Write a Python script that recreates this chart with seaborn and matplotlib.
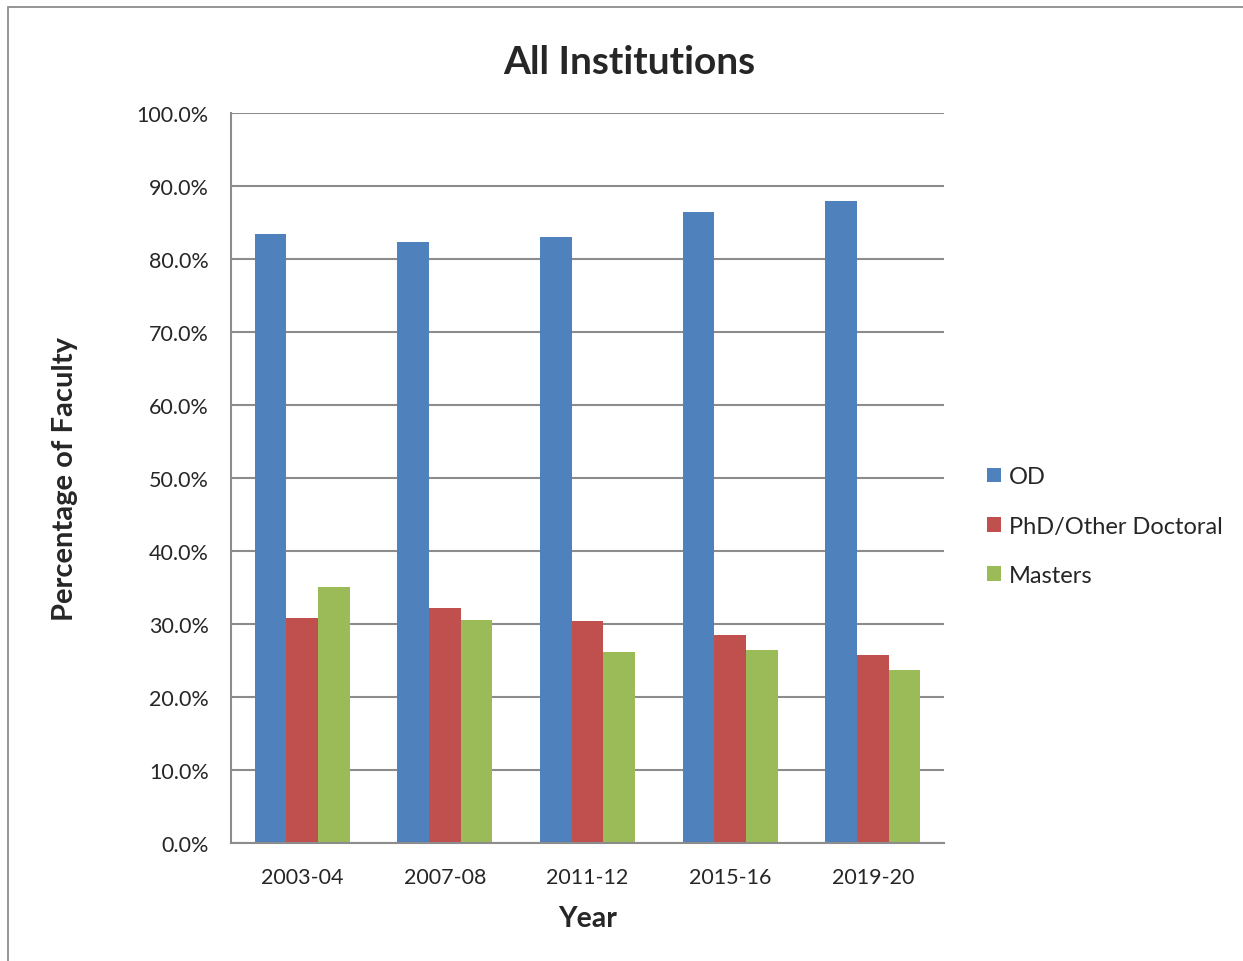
import numpy as np
import pandas as pd
import matplotlib
matplotlib.use("Agg")
import matplotlib.pyplot as plt
from matplotlib.patches import Rectangle
from matplotlib.ticker import PercentFormatter
import seaborn as sns

years = ["2003-04", "2007-08", "2011-12", "2015-16", "2019-20"]
od = [83.4, 82.3, 83.0, 86.5, 88.0]
phd = [30.8, 32.2, 30.4, 28.5, 25.7]
masters = [35.1, 30.5, 26.2, 26.4, 23.7]
degrees = ["OD", "PhD/Other Doctoral", "Masters"]
colors = ["#4F81BD", "#C0504D", "#9BBB59"]

df = pd.DataFrame({"Year": years * 3,
                   "Degree": np.repeat(degrees, len(years)),
                   "Pct": od + phd + masters})

sns.set_style("white")
plt.rcParams['font.family'] = ['Lato', 'DejaVu Sans']

fig = plt.figure(figsize=(12.43, 9.62), dpi=100)
ax = fig.add_axes([0.1858, 0.1227, 0.5737, 0.7588])

sns.barplot(data=df, x="Year", y="Pct", hue="Degree", palette=colors,
            width=0.667, saturation=1, linewidth=0, ax=ax, legend=True)

# outer chart border like excel
fig.patches.append(Rectangle((8/1243, -0.01), 1.2, (962-8)/962 + 0.01,
                             transform=fig.transFigure, fill=False,
                             edgecolor="#8c8c8c", linewidth=1.3, zorder=0))

ax.set_ylim(0, 100)
ax.set_xlim(-0.5, 4.5)
ax.set_yticks(np.arange(0, 101, 10))
ax.yaxis.set_major_formatter(PercentFormatter(decimals=1))
ax.grid(axis="y", color="#8c8c8c", linewidth=1.5)
ax.set_axisbelow(True)
for s in ["top", "right"]:
    ax.spines[s].set_visible(False)
for s in ["left", "bottom"]:
    ax.spines[s].set_color("#8c8c8c")
    ax.spines[s].set_linewidth(1.5)

ax.set_xticks(np.arange(-0.5, 4.6, 1), minor=True)
ax.tick_params(axis="x", which="major", length=0, pad=17, labelsize=15.5)
ax.tick_params(axis="x", which="minor", length=6, width=1.5, color="#8c8c8c")
ax.tick_params(axis="y", length=6, width=1.5, color="#8c8c8c", labelsize=15.5, pad=10)

fig.text(629/1243, 1 - 62/962, "All Institutions", fontsize=28, fontweight="bold",
         ha="center", va="center")
ax.set_xlabel("Year", fontsize=20.5, fontweight="bold", labelpad=13)
ax.set_ylabel("Percentage of Faculty", fontsize=21, fontweight="bold", labelpad=42)

ax.legend(loc="center left", bbox_to_anchor=(1.03, 0.434), frameon=False,
          fontsize=17, handlelength=0.6, handleheight=0.6, handletextpad=0.35,
          labelspacing=1.2)

fig.savefig("out.png", dpi=100)
